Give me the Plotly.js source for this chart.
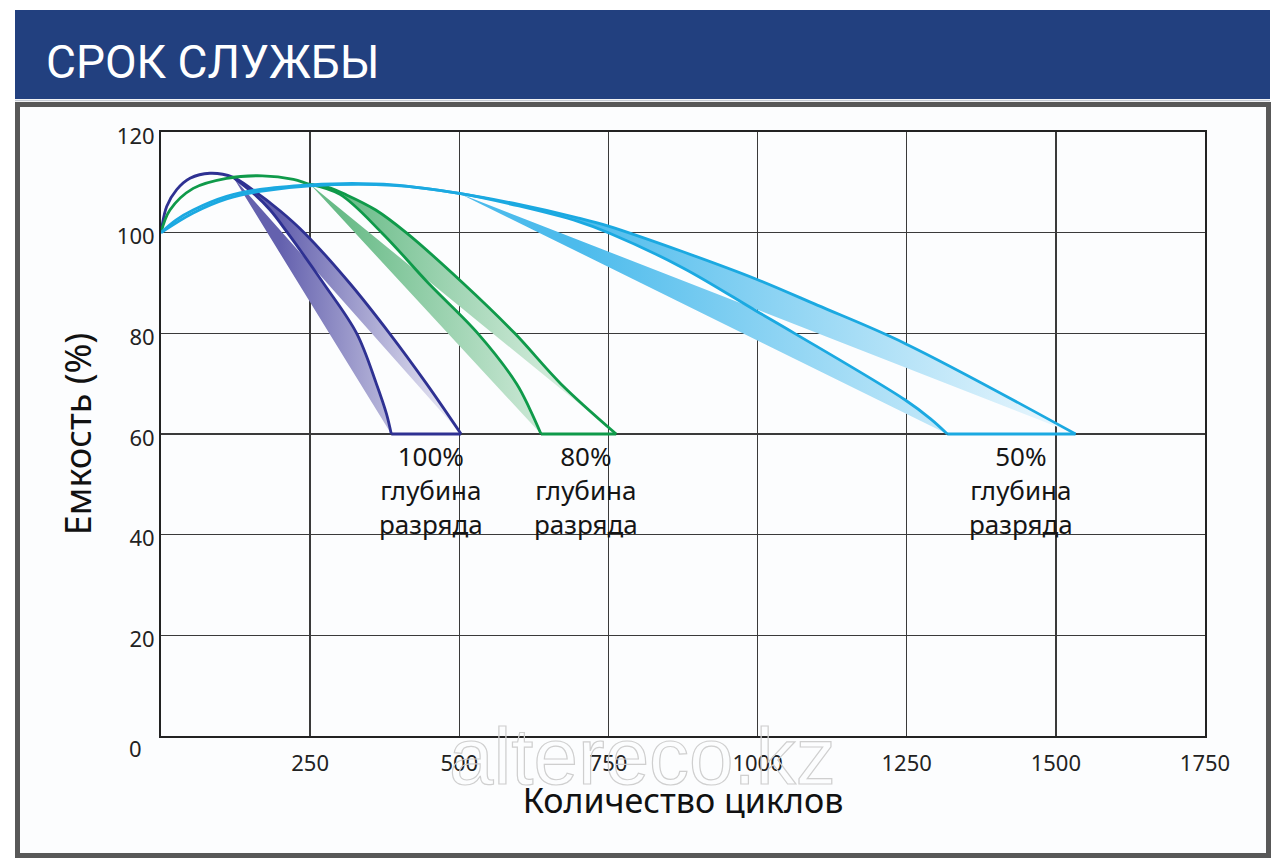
<!DOCTYPE html>
<html>
<head>
<meta charset="utf-8">
<script src="https://cdn.plot.ly/plotly-3.0.1.min.js"></script>
<style>
  html, body { margin: 0; padding: 0; background: #ffffff; }
  #chart { width: 1280px; height: 866px; }
</style>
</head>
<body>
<div id="chart"></div>
<script>
// ---------------- DATA ----------------
// 100 % depth of discharge: outer (right) curve and inner (left) curve
const dod100UpperX = [0, 9.5, 26, 48.6, 82, 121, 155, 200, 240, 316, 383, 445, 503];
const dod100UpperY = [100, 105.2, 108.5, 110.8, 111.8, 111.0, 108.4, 104.3, 100, 90, 80, 70, 60];
const dod100LowerX = [121, 155, 183, 212, 272, 328, 361, 378, 386];
const dod100LowerY = [111.0, 107.8, 104.5, 100, 90, 80, 70, 64, 60];

// 80 % depth of discharge
const dod80UpperX = [0, 15, 54, 110, 170, 222, 250, 280, 311, 360, 411, 506, 593, 670, 763];
const dod80UpperY = [100, 104.5, 108.8, 110.8, 111.3, 110.6, 109.6, 109.0, 107.5, 104.5, 100, 90, 80, 70, 60];
const dod80LowerX = [250, 300, 370, 448, 531, 596, 618, 637];
const dod80LowerY = [109.6, 107.6, 100, 90, 80, 70, 65, 60];

// 50 % depth of discharge
const dod50UpperX = [0, 25, 54, 110, 166, 250, 320, 389, 500, 600, 700, 750, 875, 997, 1100, 1247, 1533];
const dod50UpperY = [100, 102.5, 104.5, 107.2, 108.6, 109.5, 109.8, 109.5, 107.8, 105.6, 102.9, 101.3, 96.2, 90.8, 85.6, 78.0, 60];
const dod50LowerX = [0, 54, 110, 166, 250, 389, 500, 600, 700, 750, 875, 997, 1062, 1247, 1290, 1318];
const dod50LowerY = [100, 103.9, 106.7, 108.2, 109.3, 109.4, 107.8, 105.3, 102.2, 100.0, 93.0, 84.5, 80, 66.8, 63, 60];

// Tick labels
const xTickVals = [250, 500, 750, 1000, 1250, 1500, 1750];
const xTickText = ['250', '500', '750', '1000', '1250', '1500', '1750'];
const yTickVals = [20, 40, 60, 80, 100, 120];
const yTickText = ['20', '40', '60', '80', '100', '120'];

// Labels
const depthLabels = ['100%', '80%', '50%'];
const depthCaption = 'глубина<br>разряда';
const chartTitle = 'СРОК СЛУЖБЫ';
const xTitle = 'Количество циклов';
const yTitle = 'Емкость (%)';
const watermark = 'altereco.kz';

// ---------------- STYLE / LAYOUT ----------------
const W = 1280, H = 866;
const L = 161, R = 1205, T = 132, B = 736;
const PW = R - L, PH = B - T;
const px2x = p => (p - L) / PW;
const px2y = p => (B - p) / PH;

function group(ux, uy, lx, ly, splitX, color, c0, c1, gStart, gStop) {
  const iu = ux.indexOf(splitX), il = lx.indexOf(splitX);
  const common = { type: 'scatter', mode: 'lines', hoverinfo: 'skip', showlegend: false };
  return [
    Object.assign({}, common, { x: lx.slice(il), y: ly.slice(il), line: { width: 0, shape: 'spline' } }),
    Object.assign({}, common, {
      x: ux.slice(iu), y: uy.slice(iu), line: { width: 0, shape: 'spline' },
      fill: 'tonext', fillcolor: c0,
      fillgradient: { type: 'horizontal', colorscale: [[0, c0], [1, c1]], start: gStart, stop: gStop }
    }),
    Object.assign({}, common, { x: ux, y: uy, line: { color: color, width: 2.8, shape: 'spline' } }),
    Object.assign({}, common, { x: lx, y: ly, line: { color: color, width: 2.8, shape: 'spline' } }),
    Object.assign({}, common, { x: [lx[lx.length - 1], ux[ux.length - 1]], y: [ly[ly.length - 1], uy[uy.length - 1]], line: { color: color, width: 2.8 } })
  ];
}

const traces = [].concat(
  group(dod100UpperX, dod100UpperY, dod100LowerX, dod100LowerY, 121, '#2e3192', '#6461ae', '#f4f4fa', 200, 510),
  group(dod80UpperX, dod80UpperY, dod80LowerX, dod80LowerY, 250, '#0f9a4a', '#68bb87', '#f3faf5', 300, 770),
  group(dod50UpperX, dod50UpperY, dod50LowerX, dod50LowerY, 500, '#1ba9e1', '#4cbbec', '#f0f9fe', 700, 1540)
);

const labelFont = { family: 'Noto Sans, sans-serif', size: 26, color: '#151515' };
const labelPos = [[452, 48.9], [712, 48.9], [1442, 48.9]];
const annotations = depthLabels.map((t, i) => ({
  text: t + '<br>' + depthCaption, x: labelPos[i][0], y: labelPos[i][1], xref: 'x', yref: 'y',
  showarrow: false, font: labelFont, align: 'center', xanchor: 'center', yanchor: 'middle'
}));
annotations.push({
  text: '0', xref: 'paper', yref: 'paper', x: px2x(135), y: px2y(748), showarrow: false,
  xanchor: 'center', yanchor: 'middle', font: { family: 'Noto Sans, sans-serif', size: 22, color: '#222' }
});
annotations.unshift({
  text: watermark, xref: 'paper', yref: 'paper', x: px2x(642), y: px2y(757), showarrow: false,
  xanchor: 'center', yanchor: 'middle',
  font: { family: 'Liberation Sans, Arial, sans-serif', size: 80, color: 'rgba(160,160,160,0.2)' }
});

const shapes = [
  { type: 'rect', xref: 'paper', yref: 'paper', layer: 'below',
    x0: px2x(15), x1: px2x(1270), y0: px2y(99), y1: px2y(10),
    fillcolor: '#22407f', line: { width: 0 } },
  { type: 'line', xref: 'paper', yref: 'paper', layer: 'below',
    x0: px2x(15), x1: px2x(1270), y0: px2y(100.5), y1: px2y(100.5),
    line: { color: '#c5cad3', width: 1.5 } },
  { type: 'rect', xref: 'paper', yref: 'paper', layer: 'below',
    x0: px2x(17.5), x1: px2x(1268.5), y0: px2y(855.5), y1: px2y(104.5),
    fillcolor: '#fcfdfe', line: { color: '#585858', width: 5 } }
];

const axisFont = { family: 'Noto Sans, sans-serif', size: 22, color: '#222' };
const layout = {
  width: W, height: H,
  margin: { l: L, r: W - R, t: T, b: H - B, pad: 0 },
  paper_bgcolor: '#ffffff', plot_bgcolor: '#ffffff',
  showlegend: false,
  title: {
    text: chartTitle, xref: 'container', yref: 'container',
    x: 46 / W, xanchor: 'left', y: 1 - 62 / H, yanchor: 'middle',
    font: { family: 'Roboto, sans-serif', size: 46, color: '#ffffff' }
  },
  xaxis: {
    range: [0, 1750], tickmode: 'array', tickvals: xTickVals, ticktext: xTickText,
    showgrid: true, gridcolor: '#3a3a3a', gridwidth: 1.5, zeroline: false,
    showline: true, linecolor: '#222', linewidth: 2, mirror: true,
    ticks: '', tickfont: axisFont, ticklabelstandoff: 7,
    title: { text: xTitle, font: { family: 'Noto Sans, sans-serif', size: 34, color: '#111' }, standoff: 6 }
  },
  yaxis: {
    range: [0, 120], tickmode: 'array', tickvals: yTickVals, ticktext: yTickText,
    showgrid: true, gridcolor: '#3a3a3a', gridwidth: 1.5, zeroline: false,
    showline: true, linecolor: '#222', linewidth: 2, mirror: true,
    ticks: '', tickfont: axisFont, ticklabelstandoff: 0, ticklabelshift: 4,
    title: { text: yTitle, font: { family: 'Noto Sans, sans-serif', size: 36, color: '#111' }, standoff: 14 }
  },
  shapes: shapes,
  annotations: annotations
};

Plotly.newPlot('chart', traces, layout, { displayModeBar: false, staticPlot: true }).then(function (gd) {
  // draw the watermark as an outline, like the reference
  gd.querySelectorAll('.annotation-text').forEach(function (t) {
    if (t.textContent === watermark) {
      t.style.fill = 'rgba(255,255,255,0)';
      t.style.stroke = '#cfcfcf';
      t.style.strokeWidth = '1.2px';
    }
  });
});
</script>
</body>
</html>
